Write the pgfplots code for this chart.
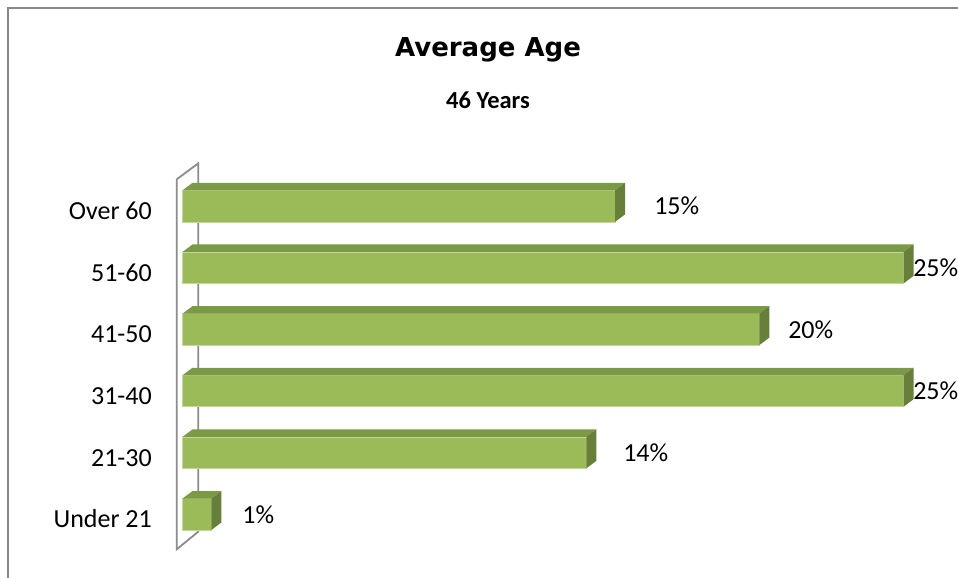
\documentclass[border=0pt]{standalone}
\usepackage{pgfplots}
\pgfplotsset{compat=1.18}
\usepackage{pgfplotstable}
\usepackage{fontspec}
\setmainfont{Carlito}
\newfontfamily\dejavu{DejaVu Sans}
\definecolor{barfront}{HTML}{9BBB59}
\definecolor{bartop}{HTML}{7A9A45}
\definecolor{barside}{HTML}{677F3A}
\definecolor{baredge}{HTML}{C3D69B}
\definecolor{wallgray}{HTML}{8C8C8C}
\definecolor{framegray}{HTML}{878787}

\pgfplotstableread{
idx val shift
0 1 30.7
1 14 36.7
2 25 9.5
3 20 28.7
4 25 9.5
5 15 38.9
}\agedata

\begin{document}
\begin{tikzpicture}
\useasboundingbox (0pt,0pt) rectangle (958pt,578pt);
\fill[white] (0pt,0pt) rectangle (958pt,578pt);
\draw[framegray, line width=2pt] (7.5pt,-20pt) -- (7.5pt,569.5pt) -- (990pt,569.5pt);
\node[anchor=base, inner sep=0pt, font=\dejavu\bfseries\fontsize{26}{30}\selectfont] at (488pt,521.3pt) {Average Age};
\node[anchor=base, inner sep=0pt, font=\bfseries\fontsize{24.5}{29}\selectfont] at (488pt,469.7pt) {46 Years};
\begin{axis}[
  x=28.84pt, y=61.64pt,
  xmin=-1.0576, xmax=27, ymin=-1, ymax=6,
  anchor=south west, at={(152pt,2.06pt)},
  clip=false,
  axis line style={draw=none},
  major tick length=0pt,
  xtick=\empty,
  ytick={0,...,5},
  yticklabels={Under 21,21-30,31-40,41-50,51-60,Over 60},
  yticklabel style={anchor=base east, inner sep=0pt, yshift=-13.5pt, font=\fontsize{26}{30}\selectfont, text=black},
]
\addplot[draw=wallgray, line width=1.8pt, fill=white, mark=none] coordinates {(-0.201,5.435) (0.548,5.694) (0.548,-0.282) (-0.201,-0.568) (-0.201,5.435)};
\addplot[xbar, bar width=31.5pt, fill=barfront, draw=baredge, line width=0.6pt,
  point meta=x,
  nodes near coords={\pgfmathprintnumber[assume math mode=true]{\pgfplotspointmeta}\%},
  visualization depends on={\thisrow{shift} \as \lblshift},
  every node near coord/.append style={anchor=west, inner sep=0pt, xshift=\lblshift pt, font=\fontsize{26}{30}\selectfont, text=black}
] table[x=val, y=idx] {\agedata};
\pgfplotsforeachungrouped \i in {0,...,5}{
  \pgfplotstablegetelem{\i}{val}\of\agedata
  \let\barval\pgfplotsretval
  \pgfmathsetmacro\ya{\i+0.2555}
  \pgfmathsetmacro\yb{\i+0.3772}
  \pgfmathsetmacro\yc{\i-0.2555}
  \pgfmathsetmacro\yd{\i-0.1338}
  \pgfmathsetmacro\xb{\barval+0.3467}
  \edef\temp{\noexpand\addplot[fill=bartop, draw=none, mark=none] coordinates {(0,\ya) (\barval,\ya) (\xb,\yb) (0.3467,\yb) (0,\ya)};
   \noexpand\addplot[fill=barside, draw=none, mark=none] coordinates {(\barval,\yc) (\barval,\ya) (\xb,\yb) (\xb,\yd) (\barval,\yc)};}
  \temp
}
\end{axis}
\end{tikzpicture}
\end{document}
